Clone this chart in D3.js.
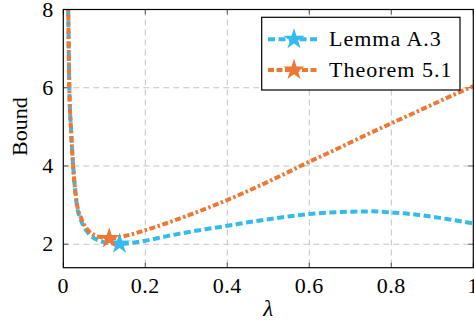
<!DOCTYPE html>
<html>
<head>
<meta charset="utf-8">
<script src="https://cdn.jsdelivr.net/npm/d3@7"></script>
<style>
  html, body { margin: 0; padding: 0; background: #fff; }
  svg { display: block; }
</style>
</head>
<body>
<svg id="chart" width="474" height="326"></svg>
<script>
// values
const lemmaLambda = [0.010, 0.012, 0.0147, 0.019, 0.024, 0.033, 0.043, 0.053, 0.063, 0.073, 0.09, 0.11, 0.137, 0.17, 0.2, 0.25, 0.3, 0.35, 0.4, 0.45, 0.5, 0.55, 0.6, 0.65, 0.7, 0.75, 0.8, 0.85, 0.9, 0.95, 1.0];
const lemmaBound  = [9.6, 8.0, 6.0, 4.9, 4.0, 3.0, 2.62, 2.40, 2.26, 2.17, 2.08, 2.03, 2.01, 2.04, 2.09, 2.2, 2.3, 2.39, 2.47, 2.56, 2.64, 2.71, 2.77, 2.81, 2.83, 2.84, 2.81, 2.77, 2.70, 2.62, 2.53];
const theoremLambda = [0.010, 0.012, 0.0147, 0.019, 0.024, 0.033, 0.043, 0.053, 0.063, 0.073, 0.09, 0.112, 0.15, 0.2, 0.25, 0.3, 0.35, 0.4, 0.45, 0.5, 0.55, 0.6, 0.65, 0.7, 0.75, 0.8, 0.85, 0.9, 0.95, 1.0];
const theoremBound  = [9.6, 8.0, 6.0, 4.9, 4.0, 3.05, 2.68, 2.46, 2.33, 2.25, 2.18, 2.15, 2.21, 2.36, 2.53, 2.72, 2.92, 3.13, 3.36, 3.6, 3.85, 4.11, 4.35, 4.6, 4.85, 5.09, 5.33, 5.57, 5.81, 6.04];
// minima marked with stars
const starLambda = [0.137, 0.112];
const starBound  = [2.01, 2.15];
const seriesNames = ["Lemma A.3", "Theorem 5.1"];
const xTicks = [0, 0.2, 0.4, 0.6, 0.8, 1];
const yTicks = [2, 4, 6, 8];

const width = 474, height = 326;
const margin = { top: 9.5, right: 0.7, bottom: 58.3, left: 63.3 };
const iw = width - margin.left - margin.right;
const ih = height - margin.top - margin.bottom;
const serif = "Liberation Serif";

const colors = ["#33bbee", "#ee7733"];
const dashes = ["7,3.5", "6,2.5,2.5,2.5"];

const svg = d3.select("#chart");
const g = svg.append("g").attr("transform", `translate(${margin.left},${margin.top})`);

const x = d3.scaleLinear().domain([0, 1]).range([0, iw]);
const y = d3.scaleLinear().domain([1.4, 8]).range([ih, 0]);

svg.append("defs").append("clipPath").attr("id", "plot-clip")
  .append("rect").attr("width", iw).attr("height", ih);

// grid
g.append("g").selectAll("line").data(xTicks.slice(1, -1)).join("line")
  .attr("x1", d => x(d)).attr("x2", d => x(d)).attr("y1", 0).attr("y2", ih)
  .attr("stroke", "#c4c4c4").attr("stroke-width", 1).attr("stroke-dasharray", "6,4");
g.append("g").selectAll("line").data(yTicks).join("line")
  .attr("x1", 0).attr("x2", iw).attr("y1", d => y(d)).attr("y2", d => y(d))
  .attr("stroke", "#c4c4c4").attr("stroke-width", 1).attr("stroke-dasharray", "6,4");

// inner ticks on all four sides
const tickLen = 5;
const tg = g.append("g").attr("stroke", "#555").attr("stroke-width", 1);
xTicks.forEach(t => {
  tg.append("line").attr("x1", x(t)).attr("x2", x(t)).attr("y1", ih).attr("y2", ih - tickLen);
  tg.append("line").attr("x1", x(t)).attr("x2", x(t)).attr("y1", 0).attr("y2", tickLen);
});
yTicks.forEach(t => {
  tg.append("line").attr("x1", 0).attr("x2", tickLen).attr("y1", y(t)).attr("y2", y(t));
  tg.append("line").attr("x1", iw).attr("x2", iw - tickLen).attr("y1", y(t)).attr("y2", y(t));
});

// tick labels
g.append("g").selectAll("text").data(xTicks).join("text")
  .attr("x", d => x(d)).attr("y", ih + 25.5)
  .attr("text-anchor", "middle").attr("font-family", serif).attr("font-size", 22)
  .attr("letter-spacing", 0.6).attr("fill", "#000")
  .text(d => d3.format("")(d));
g.append("g").selectAll("text").data(yTicks).join("text")
  .attr("x", -10).attr("y", d => y(d) + 7)
  .attr("text-anchor", "end").attr("font-family", serif).attr("font-size", 22).attr("fill", "#000")
  .text(d => d);

// curves
const line = d3.line().x(d => x(d[0])).y(d => y(d[1])).curve(d3.curveMonotoneX);
const lemmaPts = lemmaLambda.map((l, i) => [l, lemmaBound[i]]);
const theoremPts = theoremLambda.map((l, i) => [l, theoremBound[i]]);

const curves = g.append("g").attr("clip-path", "url(#plot-clip)");
curves.append("path").datum(lemmaPts).attr("d", line)
  .attr("fill", "none").attr("stroke", colors[0]).attr("stroke-width", 4)
  .attr("stroke-dasharray", dashes[0]);
curves.append("path").datum(theoremPts).attr("d", line)
  .attr("fill", "none").attr("stroke", colors[1]).attr("stroke-width", 4)
  .attr("stroke-dasharray", dashes[1]);

// stars
const star = d3.symbol().type(d3.symbolStar).size(140);
starLambda.forEach((l, i) => {
  g.append("path").attr("d", star)
    .attr("transform", `translate(${x(l)},${y(starBound[i])})`)
    .attr("fill", colors[i]);
});

// axis frame
g.append("rect").attr("width", iw).attr("height", ih)
  .attr("fill", "none").attr("stroke", "#000").attr("stroke-width", 1.2);

// axis labels
svg.append("text")
  .attr("x", margin.left + iw / 2).attr("y", 316)
  .attr("text-anchor", "middle").attr("font-family", serif).attr("font-size", 23).attr("font-style", "italic")
  .text("λ");
svg.append("text")
  .attr("transform", `translate(27,${margin.top + ih / 2 - 12}) rotate(-90)`)
  .attr("text-anchor", "middle").attr("font-family", serif).attr("font-size", 22)
  .text("Bound");

// legend
const lg = svg.append("g");
lg.append("rect").attr("x", 261.7).attr("y", 17.3).attr("width", 198.3).attr("height", 72.7)
  .attr("fill", "#fff").attr("stroke", "#000").attr("stroke-width", 1.2);
const rowsY = [39.3, 70];
seriesNames.forEach((name, i) => {
  lg.append("line").attr("x1", 268).attr("x2", 318).attr("y1", rowsY[i]).attr("y2", rowsY[i])
    .attr("stroke", colors[i]).attr("stroke-width", 4).attr("stroke-dasharray", i === 0 ? "7,3.5" : "6,2.5");
  lg.append("path").attr("d", star).attr("transform", `translate(294,${rowsY[i]})`).attr("fill", colors[i]);
  lg.append("text").attr("x", 329).attr("y", rowsY[i] + 6.5)
    .attr("font-family", serif).attr("font-size", 22).attr("letter-spacing", 1).text(name);
});
</script>
</body>
</html>
